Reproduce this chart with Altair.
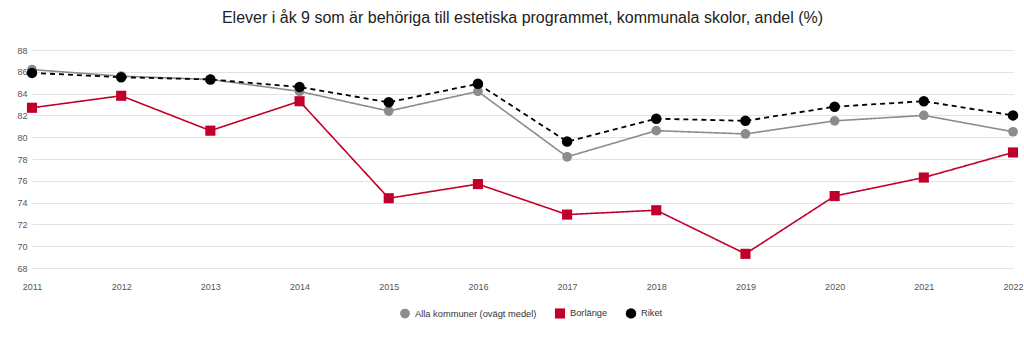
import altair as alt
import pandas as pd

years = [2011, 2012, 2013, 2014, 2015, 2016, 2017, 2018, 2019, 2020, 2021, 2022]
alla = [86.2, 85.6, 85.3, 84.2, 82.4, 84.2, 78.2, 80.6, 80.3, 81.5, 82.0, 80.5]
borlange = [82.7, 83.8, 80.6, 83.3, 74.4, 75.7, 72.9, 73.3, 69.3, 74.6, 76.3, 78.6]
riket = [85.9, 85.5, 85.3, 84.6, 83.2, 84.9, 79.6, 81.7, 81.5, 82.8, 83.3, 82.0]

series_names = ["Alla kommuner (ovägt medel)", "Borlänge", "Riket"]
series_vals = [alla, borlange, riket]
colors = ["#8c8c8c", "#c0002b", "#000000"]
shapes = ["circle", "square", "circle"]
dashes = [[1, 0], [1, 0], [5, 4]]
widths = [1.6, 1.6, 1.8]
y_ticks = list(range(68, 89, 2))

rows = []
for i, (name, vals) in enumerate(zip(series_names, series_vals)):
    for y, v in zip(years, vals):
        rows.append({"year": y, "value": v, "series": name, "order": i})
df = pd.DataFrame(rows)

x_enc = alt.X("year:Q", scale=alt.Scale(domain=[2011, 2022], nice=False, zero=False),
              axis=alt.Axis(values=years, format="d", title=None, grid=False, domain=False,
                            ticks=False, labelFlush=False, labelPadding=14,
                            labelFontSize=9, labelColor="#555"))
y_enc = alt.Y("value:Q", scale=alt.Scale(domain=[68, 88], nice=False, zero=False),
              axis=alt.Axis(values=y_ticks, title=None, domain=False, ticks=False,
                            labelPadding=5, labelFontSize=9, labelColor="#555",
                            gridColor="#e3e3e3", gridWidth=1))

line_layers = []
for name, c, d, w in zip(series_names, colors, dashes, widths):
    line_layers.append(
        alt.Chart(df).transform_filter(alt.datum.series == name).mark_line(
            color=c, strokeDash=d, strokeWidth=w
        ).encode(x=x_enc, y=y_enc)
    )

legend = alt.Legend(title=None, orient="none", legendX=367, legendY=257, direction="horizontal",
                    labelFontSize=9.3, labelColor="#333", symbolSize=100,
                    columnPadding=14, symbolOpacity=1, labelOffset=4)

points = alt.Chart(df).mark_point(filled=True, opacity=1).encode(
    x=x_enc, y=y_enc,
    color=alt.Color("series:N", scale=alt.Scale(domain=series_names, range=colors), legend=legend),
    shape=alt.Shape("series:N", scale=alt.Scale(domain=series_names, range=shapes), legend=legend),
    size=alt.Size("series:N", scale=alt.Scale(domain=series_names, range=[95, 110, 100]), legend=None),
)

chart = alt.layer(*line_layers, points).properties(
    width=981, height=218,
    title=alt.TitleParams("Elever i åk 9 som är behöriga till estetiska programmet, kommunala skolor, andel (%)",
                          fontSize=16, font="Liberation Sans", fontWeight="normal", color="#222",
                          anchor="middle", offset=20),
    autosize=alt.AutoSizeParams(type="none"),
    padding={"left": 32, "top": 50, "right": 11, "bottom": 69},
).configure(font="Liberation Sans").configure_view(stroke=None)

chart.save("out.html", embed_options={"renderer": "svg", "actions": False})
